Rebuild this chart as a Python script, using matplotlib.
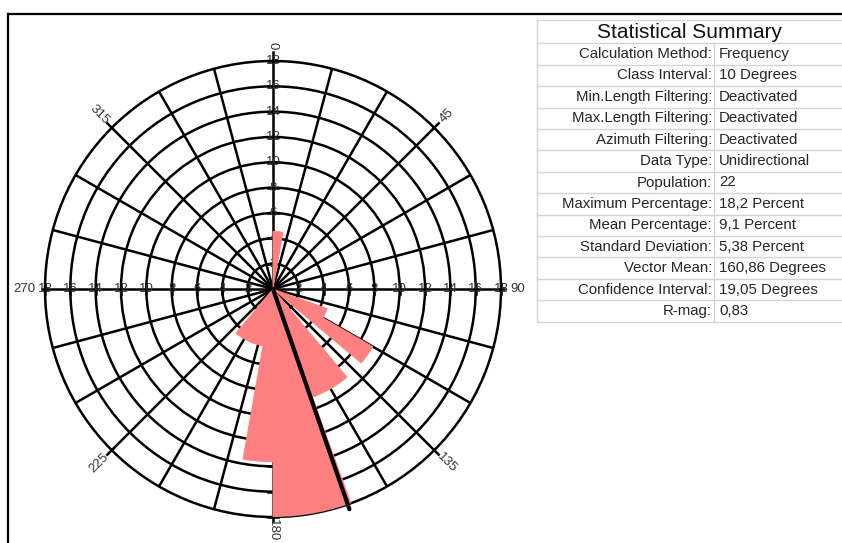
import numpy as np
import matplotlib
matplotlib.use("Agg")
from matplotlib import pyplot as plt

plt.rcParams['font.family'] = ['Liberation Sans', 'DejaVu Sans']

# Rose diagram data: 10 degree classes (start azimuth) and counts per class
bin_start = [0, 110, 120, 140, 150, 160, 170, 180, 190, 200, 210]
counts = [1, 1, 2, 2, 2, 4, 4, 3, 1, 1, 1]
population = 22
vector_mean = 160.86
ring_values = [2, 4, 6, 8, 10, 12, 14, 16, 18]

summary_labels = [
    "Calculation Method:", "Class Interval:", "Min.Length Filtering:",
    "Max.Length Filtering:", "Azimuth Filtering:", "Data Type:",
    "Population:", "Maximum Percentage:", "Mean Percentage:",
    "Standard Deviation:", "Vector Mean:", "Confidence Interval:", "R-mag:",
]
summary_values = [
    "Frequency", "10 Degrees", "Deactivated", "Deactivated", "Deactivated",
    "Unidirectional", "22", "18,2 Percent", "9,1 Percent", "5,38 Percent",
    "160,86 Degrees", "19,05 Degrees", "0,83",
]

W, H = 842, 543
fig = plt.figure(figsize=(W / 100, H / 100), dpi=100)

# background axes in pixel units for the frame and the summary table
bg = fig.add_axes([0, 0, 1, 1])
bg.set_xlim(0, W)
bg.set_ylim(H, 0)
bg.axis('off')
bg.plot([8, W], [13.5, 13.5], color='black', lw=1.6)
bg.plot([8, 8], [13.5, H], color='black', lw=1.6)

tab_left, tab_split, tab_top, title_bottom, tab_bottom = 537, 714, 20, 43.3, 321.7
row_h = (tab_bottom - title_bottom) / len(summary_labels)
grid_col = '#d4d4d4'
txt_col = '#262626'
bg.plot([tab_left, W], [tab_top, tab_top], color=grid_col, lw=1)
bg.plot([tab_left, tab_left], [tab_top, tab_bottom], color=grid_col, lw=1)
bg.plot([tab_split, tab_split], [title_bottom, tab_bottom], color=grid_col, lw=1)
bg.text((tab_left + W) / 2, (tab_top + title_bottom) / 2 + 1, "Statistical Summary",
        ha='center', va='center', fontsize=15, color='#111111')
for i, (lab, val) in enumerate(zip(summary_labels, summary_values)):
    y0 = title_bottom + i * row_h
    bg.plot([tab_left, W], [y0, y0], color=grid_col, lw=1)
    bg.text(tab_split - 2, y0 + row_h / 2, lab, ha='right', va='center',
            fontsize=10.8, color=txt_col)
    bg.text(tab_split + 5, y0 + row_h / 2, val, ha='left', va='center',
            fontsize=10.8, color=txt_col)
bg.plot([tab_left, W], [tab_bottom, tab_bottom], color=grid_col, lw=1)

# rose diagram
cx, cy, rad = 273, 289, 228
ax = fig.add_axes([(cx - rad) / W, (H - cy - rad) / H, 2 * rad / W, 2 * rad / H],
                  projection='polar')
ax.set_theta_zero_location('N')
ax.set_theta_direction(-1)
ax.set_ylim(0, 18)
ax.set_xticks(np.deg2rad(np.arange(0, 360, 15)))
ax.set_xticklabels([])
ax.set_yticks(ring_values[:-1])
ax.set_yticklabels([])
ax.tick_params(length=0)
lw = 1.8
ax.grid(True, color='black', lw=lw)
ax.spines['polar'].set_linewidth(lw)
ax.set_axisbelow(True)

pct = np.array(counts) / population * 100
petal = '#ff8080'
ax.bar(np.deg2rad(bin_start), pct, width=np.deg2rad(10), align='edge',
       color=petal, edgecolor=petal, linewidth=0.6, zorder=3)

# vector mean
ax.plot([np.deg2rad(vector_mean)] * 2, [0, 18.4], color='black', lw=3,
        solid_capstyle='round', zorder=4, clip_on=False)


def to_polar(x, y):
    return np.arctan2(x, y), np.hypot(x, y)


# main axes extend a little past the outer ring
for b, ext in [(0, 18.7), (90, 18.2), (180, 18.35), (270, 18.2),
               (45, 18.5), (135, 18.5), (225, 18.5), (315, 18.5)]:
    ax.plot([np.deg2rad(b)] * 2, [17.9, ext], color='black', lw=lw,
            clip_on=False, zorder=2)

# tick marks on the four main axes
d = 0.38
for b in [0, 90, 180, 270]:
    br = np.deg2rad(b)
    ux, uy = np.sin(br), np.cos(br)
    px, py = np.cos(br), -np.sin(br)
    for r in ring_values:
        t1, r1 = to_polar(r * ux + d * px, r * uy + d * py)
        t2, r2 = to_polar(r * ux - d * px, r * uy - d * py)
        ax.plot([t1, t2], [r1, r2], color='black', lw=lw, clip_on=False, zorder=2)

lab_col = '#333333'
fs = 9.5
for r in ring_values:
    for b in [0, 90, 270]:
        ax.text(np.deg2rad(b), r, str(r), ha='center', va='center',
                fontsize=fs, color=lab_col, zorder=2)

ax.text(0, 19.2, "0", rotation=-90, ha='center', va='center', fontsize=fs, color=lab_col)
ax.text(np.pi, 19.0, "180", rotation=-90, ha='center', va='center', fontsize=fs,
        color=lab_col)
ax.text(np.deg2rad(90), 18.75, "90", ha='left', va='center', fontsize=fs, color=lab_col)
ax.text(np.deg2rad(270), 18.75, "270", ha='right', va='center', fontsize=fs,
        color=lab_col)
for b, rot in [(45, 45), (135, -45), (225, 45), (315, -45)]:
    ax.text(np.deg2rad(b), 19.4, str(b), rotation=rot, ha='center', va='center',
            fontsize=fs, color=lab_col, rotation_mode='anchor')

fig.savefig('out.png', dpi=100)
